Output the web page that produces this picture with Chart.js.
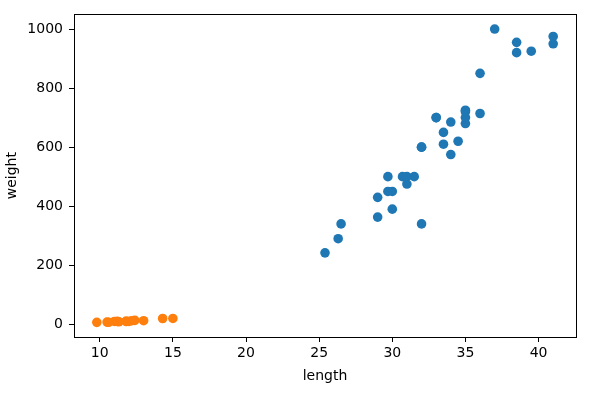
<!DOCTYPE html>
<html><head><meta charset="utf-8">
<script src="https://cdn.jsdelivr.net/npm/chart.js@4"></script>
<style>html,body{margin:0;padding:0;background:#fff}#wrap{width:616px;height:394px}</style>
</head><body><div id="wrap"><canvas id="c" width="616" height="394"></canvas></div>
<script>
const breamLength = [25.4, 26.3, 26.5, 29.0, 29.0, 29.7, 29.7, 30.0, 30.0, 30.7, 31.0, 31.0, 31.5, 32.0, 32.0, 32.0, 33.0, 33.0, 33.5, 33.5, 34.0, 34.0, 34.5, 35.0, 35.0, 35.0, 35.0, 36.0, 36.0, 37.0, 38.5, 38.5, 39.5, 41.0, 41.0];
const breamWeight = [242.0, 290.0, 340.0, 363.0, 430.0, 450.0, 500.0, 390.0, 450.0, 500.0, 475.0, 500.0, 500.0, 340.0, 600.0, 600.0, 700.0, 700.0, 610.0, 650.0, 575.0, 685.0, 620.0, 680.0, 700.0, 725.0, 720.0, 714.0, 850.0, 1000.0, 920.0, 955.0, 925.0, 975.0, 950.0];
const smeltLength = [9.8, 10.5, 10.6, 11.0, 11.2, 11.3, 11.8, 11.8, 12.0, 12.2, 12.4, 13.0, 14.3, 15.0];
const smeltWeight = [6.7, 7.5, 7.0, 9.7, 9.8, 8.7, 10.0, 9.9, 9.8, 12.2, 13.4, 12.2, 19.7, 19.9];
const xTicks = [10, 15, 20, 25, 30, 35, 40];
const yTicks = [0, 200, 400, 600, 800, 1000];

const toPts = (xs, ys) => xs.map((x, i) => ({x: x, y: ys[i]}));
const FONT = {family: "DejaVu Sans", size: 14};

const frame = {
  id: 'frame',
  afterDraw(chart) {
    const a = chart.chartArea, ctx = chart.ctx;
    ctx.save();
    ctx.strokeStyle = '#000';
    ctx.lineWidth = 1;
    ctx.strokeRect(Math.round(a.left) + 0.5, Math.round(a.top) + 0.5, Math.round(a.right - a.left), Math.round(a.bottom - a.top));
    ctx.restore();
  }
};

new Chart(document.getElementById('c'), {
  type: 'scatter',
  data: {
    datasets: [
      {label: 'bream', data: toPts(breamLength, breamWeight), backgroundColor: '#1f77b4', borderWidth: 0, pointRadius: 4.8, pointHoverRadius: 4.8, order: 2},
      {label: 'smelt', data: toPts(smeltLength, smeltWeight), backgroundColor: '#ff7f0e', borderWidth: 0, pointRadius: 4.8, pointHoverRadius: 4.8, order: 1}
    ]
  },
  options: {
    responsive: false,
    animation: false,
    layout: {padding: {left: 0, right: 40, top: 10, bottom: 0}},
    plugins: {legend: {display: false}, tooltip: {enabled: false}},
    scales: {
      x: {
        type: 'linear', min: 8.24, max: 42.56,
        afterBuildTicks: s => { s.ticks = xTicks.map(v => ({value: v})); },
        afterFit: s => { s.height = 57; },
        grid: {drawOnChartArea: false, tickLength: 5, color: '#000', tickWidth: 1},
        border: {display: true, color: '#000', width: 1},
        ticks: {color: '#000', font: FONT, padding: 3, maxRotation: 0, callback: v => String(v)},
        title: {display: true, text: 'length', color: '#000', font: FONT, padding: {top: 4, bottom: 9}}
      },
      y: {
        type: 'linear', min: -43, max: 1049.6,
        afterBuildTicks: s => { s.ticks = yTicks.map(v => ({value: v})); },
        afterFit: s => { s.width = 74; },
        grid: {drawOnChartArea: false, tickLength: 5, color: '#000', tickWidth: 1},
        border: {display: true, color: '#000', width: 1},
        ticks: {color: '#000', font: FONT, padding: 6, callback: v => String(v)},
        title: {display: true, text: 'weight', color: '#000', font: FONT, padding: {top: 4, bottom: 4}}
      }
    }
  },
  plugins: [frame]
});
</script></body></html>
